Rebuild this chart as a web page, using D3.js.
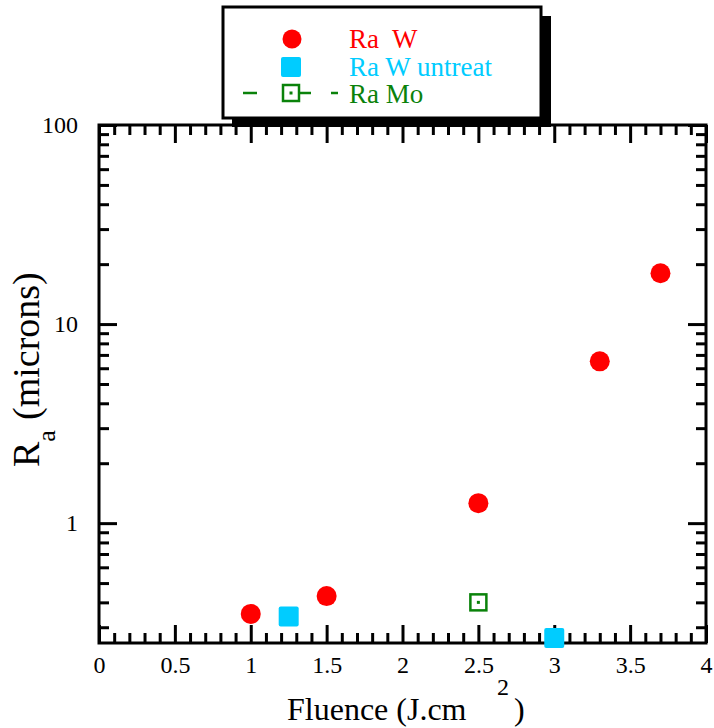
<!DOCTYPE html>
<html>
<head>
<meta charset="utf-8">
<script src="https://cdn.jsdelivr.net/npm/d3@7"></script>
<style>
  body { margin: 0; background: #fff; }
  svg { display: block; }
  text { font-family: "Liberation Serif", "Times New Roman", serif; }
</style>
</head>
<body>
<svg id="chart" width="714" height="728"></svg>
<script>
// data
const raWX = [1, 1.5, 2.5, 3.3, 3.7];
const raWY = [0.35, 0.43, 1.26, 6.5, 18];
const untreatX = [1.25, 3];
const untreatY = [0.34, 0.265];
const moX = [2.5];
const moY = [0.4];

const xMajor = [0, 0.5, 1, 1.5, 2, 2.5, 3, 3.5, 4];
const xLabels = ["0", "0.5", "1", "1.5", "2", "2.5", "3", "3.5", "4"];
const yMajor = [1, 10, 100];
const yLabels = ["1", "10", "100"];

const legendNames = ["Ra  W", "Ra W untreat", "Ra Mo"];
const colRed = "#ff0000", colCyan = "#00ccff", colGreen = "#0a820a";
const serif = "'Liberation Serif', 'Times New Roman', serif";

const svg = d3.select("#chart");
const pLeft = 99, pRight = 706, pTop = 125, pBottom = 643;

let x = d3.scaleLinear().domain([0, 4]).range([pLeft, pRight]);
let y = d3.scaleLog().domain([0.25, 100]).range([pBottom, pTop]);

let xMinor = d3.range(1, 40).map(d => d / 10).filter(d => Math.round(d * 10) % 5 !== 0);
let yMinor = [];
[0.1, 1, 10].forEach(dec => {
    for (let k = 2; k <= 9; k++) {
        let v = dec * k;
        if (v >= 0.25 && v < 100) yMinor.push(v);
    }
});

function styleAxis(g) {
    g.attr("font-family", serif);
    g.select(".domain").remove();
    g.selectAll("line").attr("stroke", "#000").attr("stroke-width", 3);
    g.selectAll("text").attr("fill", "#000")
        .attr("font-family", serif).attr("font-size", 24)
        .style("font-size", "24px");
}

// bottom axis with labels
svg.append("g")
    .attr("transform", "translate(0," + pBottom + ")")
    .call(d3.axisBottom(x).tickValues(xMajor).tickSize(-18).tickPadding(13)
        .tickFormat((d, i) => xLabels[i]))
    .call(styleAxis);
svg.append("g")
    .attr("transform", "translate(0," + pBottom + ")")
    .call(d3.axisBottom(x).tickValues(xMinor).tickSize(-10).tickFormat(""))
    .call(styleAxis);
// top axis
svg.append("g")
    .attr("transform", "translate(0," + pTop + ")")
    .call(d3.axisTop(x).tickValues(xMajor).tickSize(-18).tickFormat(""))
    .call(styleAxis);
svg.append("g")
    .attr("transform", "translate(0," + pTop + ")")
    .call(d3.axisTop(x).tickValues(xMinor).tickSize(-10).tickFormat(""))
    .call(styleAxis);
// left axis with labels
svg.append("g")
    .attr("transform", "translate(" + pLeft + ",0)")
    .call(d3.axisLeft(y).tickValues(yMajor).tickSize(-18).tickPadding(21)
        .tickFormat((d, i) => yLabels[i]))
    .call(styleAxis);
svg.append("g")
    .attr("transform", "translate(" + pLeft + ",0)")
    .call(d3.axisLeft(y).tickValues(yMinor).tickSize(-10).tickFormat(""))
    .call(styleAxis);
// right axis
svg.append("g")
    .attr("transform", "translate(" + pRight + ",0)")
    .call(d3.axisRight(y).tickValues(yMajor).tickSize(-18).tickFormat(""))
    .call(styleAxis);
svg.append("g")
    .attr("transform", "translate(" + pRight + ",0)")
    .call(d3.axisRight(y).tickValues(yMinor).tickSize(-10).tickFormat(""))
    .call(styleAxis);

// frame
svg.append("rect")
    .attr("x", pLeft).attr("y", pTop)
    .attr("width", pRight - pLeft).attr("height", pBottom - pTop)
    .attr("fill", "none").attr("stroke", "#000").attr("stroke-width", 3);

// points
let raW = raWX.map((d, i) => ({x: d, y: raWY[i]}));
let untreat = untreatX.map((d, i) => ({x: d, y: untreatY[i]}));
let mo = moX.map((d, i) => ({x: d, y: moY[i]}));

svg.append("g").selectAll("circle")
    .data(raW).enter().append("circle")
    .attr("cx", d => x(d.x)).attr("cy", d => y(d.y))
    .attr("r", 10).attr("fill", colRed);

svg.append("g").selectAll("rect")
    .data(untreat).enter().append("rect")
    .attr("x", d => x(d.x) - 10).attr("y", d => y(d.y) - 10)
    .attr("width", 20).attr("height", 20).attr("rx", 2)
    .attr("fill", colCyan);

let moG = svg.append("g").selectAll("g")
    .data(mo).enter().append("g")
    .attr("transform", d => "translate(" + x(d.x) + "," + y(d.y) + ")");
moG.append("rect")
    .attr("x", -8).attr("y", -8).attr("width", 16).attr("height", 16)
    .attr("fill", "none").attr("stroke", colGreen).attr("stroke-width", 2.5);
moG.append("rect")
    .attr("x", -1.5).attr("y", -1.5).attr("width", 3).attr("height", 3)
    .attr("fill", colGreen);

// legend
let leg = svg.append("g");
leg.append("rect")
    .attr("x", 232).attr("y", 16).attr("width", 319).attr("height", 111)
    .attr("fill", "#000");
leg.append("rect")
    .attr("x", 223).attr("y", 7).attr("width", 318).attr("height", 111)
    .attr("fill", "#fff").attr("stroke", "#000").attr("stroke-width", 3);

leg.append("circle").attr("cx", 292).attr("cy", 39).attr("r", 9.5).attr("fill", colRed);
leg.append("rect").attr("x", 281).attr("y", 57).attr("width", 20).attr("height", 20)
    .attr("rx", 2).attr("fill", colCyan);
[[243, 257], [300, 311], [331, 338]].forEach(s => {
    leg.append("line")
        .attr("x1", s[0]).attr("x2", s[1]).attr("y1", 93).attr("y2", 93)
        .attr("stroke", colGreen).attr("stroke-width", 2.5);
});
leg.append("rect").attr("x", 283).attr("y", 85).attr("width", 16).attr("height", 16)
    .attr("fill", "#fff").attr("stroke", colGreen).attr("stroke-width", 2.5);
leg.append("rect").attr("x", 289.5).attr("y", 91.5).attr("width", 3).attr("height", 3)
    .attr("fill", colGreen);

let legColors = [colRed, colCyan, colGreen];
leg.selectAll("text.lt")
    .data(legendNames).enter().append("text")
    .attr("class", "lt")
    .attr("x", 349).attr("y", (d, i) => 48 + i * 27.5)
    .attr("fill", (d, i) => legColors[i])
    .attr("font-family", serif)
    .style("font-size", "27px")
    .style("white-space", "pre")
    .attr("xml:space", "preserve")
    .text(d => d);

// axis titles
svg.append("text")
    .attr("x", 287).attr("y", 720)
    .attr("font-family", serif)
    .style("font-size", "32px")
    .text("Fluence (J.cm");
svg.append("text")
    .attr("x", 497).attr("y", 695)
    .attr("font-family", serif)
    .style("font-size", "24px")
    .text("2");
svg.append("text")
    .attr("x", 514).attr("y", 720)
    .attr("font-family", serif)
    .style("font-size", "32px")
    .text(")");

let yt = svg.append("text")
    .attr("transform", "translate(39,467) rotate(-90)")
    .attr("font-family", serif)
    .style("font-size", "38px");
yt.append("tspan").text("R");
yt.append("tspan").attr("dy", 16).style("font-size", "26px").text("a");
yt.append("tspan").attr("x", 47).attr("dy", -16).text("(microns)");
</script>
</body>
</html>
